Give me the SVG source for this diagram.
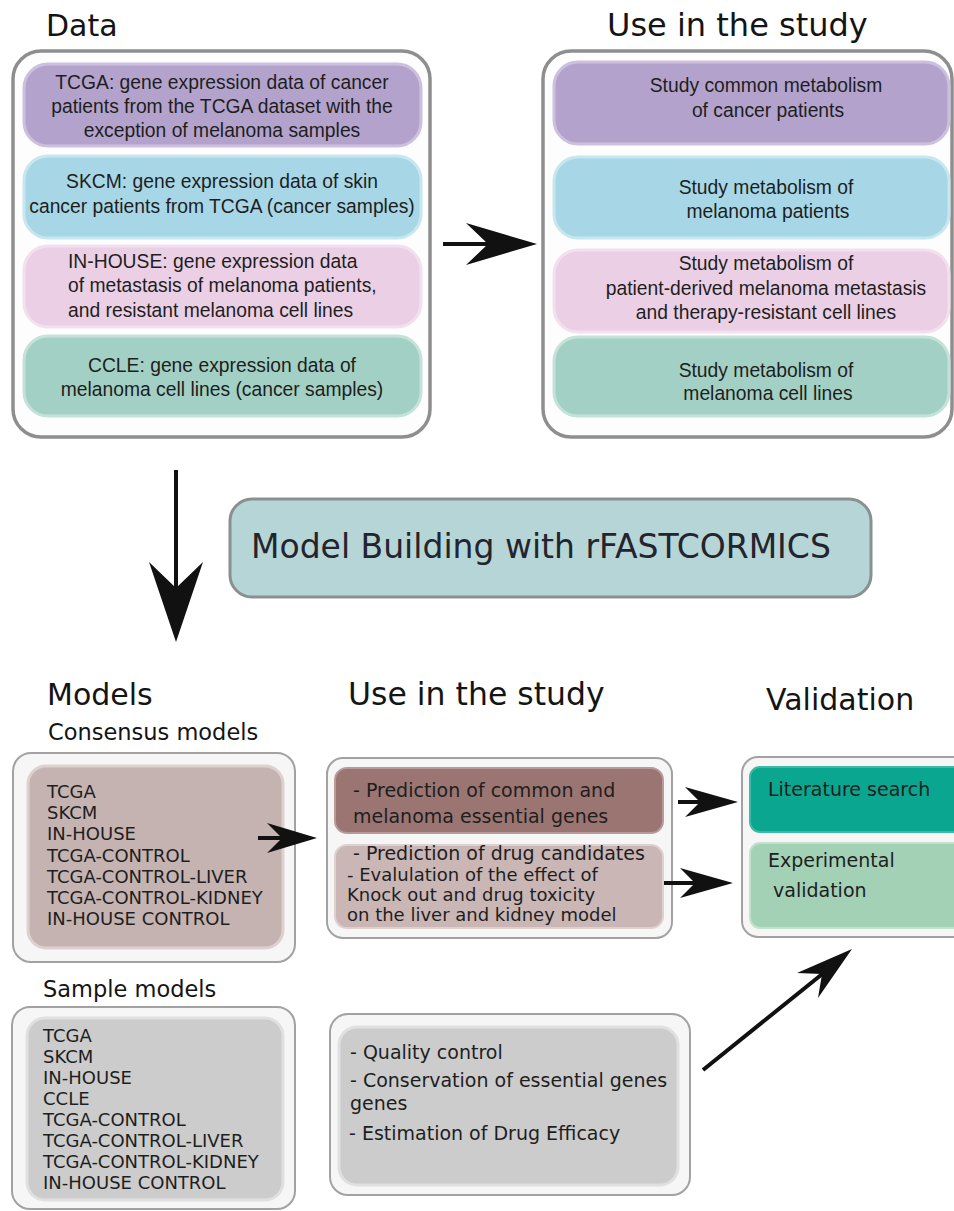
<svg xmlns="http://www.w3.org/2000/svg" width="954" height="1211" viewBox="0 0 954 1211">
<style>
.title{font-family:"DejaVu Sans",Verdana,sans-serif;font-size:30px;fill:#141414}
.sub{font-family:"DejaVu Sans",Verdana,sans-serif;font-size:22.5px;fill:#141414}
.ar{font-family:"Liberation Sans",Arial,sans-serif;font-size:19.3px;fill:#1e1e1e}
.dv{font-family:"DejaVu Sans",Verdana,sans-serif;font-size:19px;fill:#1e1e1e}
.dvs{font-family:"DejaVu Sans",Verdana,sans-serif;font-size:18px;fill:#1e1e1e}
.lst{font-family:"DejaVu Sans",Verdana,sans-serif;font-size:18px;fill:#1e1e1e}
.outerT{fill:#fdfdfd;stroke:#8e8e8e;stroke-width:3.5}
.outerB{fill:#f6f6f6;stroke:#a2a2a2;stroke-width:2}
.purple{fill:#b3a3cc;stroke:#cdc0df;stroke-width:3}
.blue{fill:#a7d7e6;stroke:#c6e6f0;stroke-width:3}
.pink{fill:#ebd0e5;stroke:#f3e0ee;stroke-width:3}
.green{fill:#a3d0c4;stroke:#c4e2da;stroke-width:3}
.shaft{stroke:#111;stroke-width:4;fill:none}
.head{fill:#111;stroke:none}
</style>

<!-- Titles -->
<text class="title" x="46" y="36">Data</text>
<text class="title" x="607" y="36" style="font-size:32px">Use in the study</text>
<text class="title" x="47" y="705">Models</text>
<text class="title" x="348" y="705" style="font-size:31.5px">Use in the study</text>
<text class="title" x="766" y="710">Validation</text>
<text class="sub" x="48" y="740">Consensus models</text>
<text class="sub" x="43" y="997">Sample models</text>

<!-- Data box -->
<g id="data">
<rect class="outerT" x="13" y="51" width="417" height="386" rx="28"/>
<g id="data-tcga">
<rect class="purple" x="24" y="64" width="397" height="82" rx="24"/>
<text class="ar" text-anchor="middle"><tspan x="222" y="89">TCGA: gene expression data of cancer</tspan><tspan x="222" y="113">patients from the TCGA dataset with the</tspan><tspan x="222" y="137">exception of melanoma samples</tspan></text>
</g>
<g id="data-skcm">
<rect class="blue" x="24" y="156" width="397" height="82" rx="24"/>
<text class="ar" text-anchor="middle"><tspan x="222" y="188">SKCM: gene expression data of skin</tspan><tspan x="222" y="213">cancer patients from TCGA (cancer samples)</tspan></text>
</g>
<g id="data-inhouse">
<rect class="pink" x="24" y="246" width="397" height="81" rx="24"/>
<text class="ar"><tspan x="68" y="268">IN-HOUSE: gene expression data</tspan><tspan x="68" y="292">of metastasis of melanoma patients,</tspan><tspan x="68" y="317">and resistant melanoma cell lines</tspan></text>
</g>
<g id="data-ccle">
<rect class="green" x="24" y="336" width="397" height="80" rx="24"/>
<text class="ar" text-anchor="middle"><tspan x="222" y="372">CCLE: gene expression data of</tspan><tspan x="222" y="396">melanoma cell lines (cancer samples)</tspan></text>
</g>
</g>

<!-- Use in the study (top) -->
<g id="use-top">
<rect class="outerT" x="543" y="51" width="409" height="386" rx="28"/>
<g id="use-common">
<rect class="purple" x="554" y="62" width="395" height="82" rx="24"/>
<text class="ar" text-anchor="middle"><tspan x="766" y="92">Study common metabolism</tspan><tspan x="768" y="117">of cancer patients</tspan></text>
</g>
<g id="use-melanoma">
<rect class="blue" x="554" y="157" width="395" height="81" rx="24"/>
<text class="ar" text-anchor="middle"><tspan x="766" y="194">Study metabolism of</tspan><tspan x="768" y="218">melanoma patients</tspan></text>
</g>
<g id="use-metastasis">
<rect class="pink" x="554" y="250" width="395" height="82" rx="24"/>
<text class="ar" text-anchor="middle"><tspan x="766" y="270">Study metabolism of</tspan><tspan x="766" y="295">patient-derived melanoma metastasis</tspan><tspan x="766" y="319">and therapy-resistant cell lines</tspan></text>
</g>
<g id="use-celllines">
<rect class="green" x="554" y="337" width="395" height="79" rx="24"/>
<text class="ar" text-anchor="middle"><tspan x="766" y="377">Study metabolism of</tspan><tspan x="768" y="400">melanoma cell lines</tspan></text>
</g>
</g>

<!-- Model building -->
<g id="model-building">
<rect x="230" y="499" width="641" height="98" rx="22" fill="#b6d5d6" stroke="#8a9090" stroke-width="3"/>
<text x="251" y="558" style="font-family:'DejaVu Sans',Verdana,sans-serif;font-size:33px;fill:#24242e">Model Building with rFASTCORMICS</text>
</g>

<!-- Consensus models -->
<g id="consensus">
<rect class="outerB" x="13" y="753" width="282" height="209" rx="18"/>
<rect x="28" y="766" width="255" height="182" rx="18" fill="#c5b3b2" stroke="#ddd1d0" stroke-width="3"/>
<text class="lst"><tspan x="47" y="798">TCGA</tspan><tspan x="47" y="819.2">SKCM</tspan><tspan x="47" y="840.4">IN-HOUSE</tspan><tspan x="47" y="861.6">TCGA-CONTROL</tspan><tspan x="47" y="882.8">TCGA-CONTROL-LIVER</tspan><tspan x="47" y="904">TCGA-CONTROL-KIDNEY</tspan><tspan x="47" y="925.2">IN-HOUSE CONTROL</tspan></text>
</g>

<!-- Sample models -->
<g id="sample">
<rect class="outerB" x="12" y="1007" width="283" height="202" rx="18"/>
<rect x="27" y="1018" width="256" height="182" rx="18" fill="#cccccc" stroke="#e0e0e0" stroke-width="3"/>
<text class="lst"><tspan x="43" y="1042">TCGA</tspan><tspan x="43" y="1063">SKCM</tspan><tspan x="43" y="1084">IN-HOUSE</tspan><tspan x="43" y="1105">CCLE</tspan><tspan x="43" y="1126">TCGA-CONTROL</tspan><tspan x="43" y="1147">TCGA-CONTROL-LIVER</tspan><tspan x="43" y="1168">TCGA-CONTROL-KIDNEY</tspan><tspan x="43" y="1189">IN-HOUSE CONTROL</tspan></text>
</g>

<!-- Use in the study (bottom) -->
<g id="use-bottom">
<rect class="outerB" x="327" y="758" width="345" height="180" rx="16"/>
<g id="use-essential">
<rect x="335" y="768" width="328" height="65" rx="12" fill="#9b7572" stroke="#b89b99" stroke-width="2"/>
<text class="dv"><tspan x="353" y="797">- Prediction of common and</tspan><tspan x="353" y="823">melanoma essential genes</tspan></text>
</g>
<g id="use-drugs">
<rect x="335" y="845" width="328" height="83" rx="12" fill="#c9b6b5" stroke="#ddd0cf" stroke-width="2"/>
<text class="dvs"><tspan x="353" y="860" style="font-size:19px">- Prediction of drug candidates</tspan><tspan x="347" y="881">- Evalulation of the effect of</tspan><tspan x="347" y="901">Knock out and drug toxicity</tspan><tspan x="347" y="921">on the liver and kidney model</tspan></text>
</g>
</g>

<!-- Quality control -->
<g id="quality">
<rect class="outerB" x="330" y="1014" width="360" height="181" rx="18"/>
<rect x="339" y="1027" width="339" height="158" rx="18" fill="#cccccc" stroke="#e0e0e0" stroke-width="3"/>
<text class="dv"><tspan x="350" y="1059">- Quality control</tspan><tspan x="350" y="1087">- Conservation of essential genes</tspan><tspan x="350" y="1110">genes</tspan><tspan x="349" y="1140">- Estimation of Drug Efficacy</tspan></text>
</g>

<!-- Validation -->
<g id="validation">
<rect class="outerB" x="742" y="757" width="230" height="180" rx="16"/>
<g id="val-literature">
<rect x="750" y="767" width="220" height="65" rx="10" fill="#0aa68f" stroke="#3dbaa6" stroke-width="2"/>
<text class="dv" x="768" y="796">Literature search</text>
</g>
<g id="val-experimental">
<rect x="750" y="843" width="220" height="85" rx="10" fill="#a3d1b6" stroke="#c2e2cf" stroke-width="2"/>
<text class="dv"><tspan x="768" y="867">Experimental</tspan><tspan x="773" y="897">validation</tspan></text>
</g>
</g>

<!-- Connectors -->
<g id="connectors">
<line class="shaft" x1="443" y1="244" x2="492" y2="244"/>
<polygon class="head" points="537,244 466,223 488,244 466,265"/>
<line class="shaft" x1="176" y1="470" x2="176" y2="595"/>
<polygon class="head" points="176,642 149,562 176,588 203,562"/>
<line class="shaft" x1="258" y1="838" x2="285" y2="838"/>
<polygon class="head" points="317,838 267,823 282,838 267,853"/>
<line class="shaft" x1="678" y1="802" x2="702" y2="802"/>
<polygon class="head" points="738,802 685,787 700,802 685,817"/>
<line class="shaft" x1="664" y1="883" x2="697" y2="883"/>
<polygon class="head" points="733,883 680,868 695,883 680,898"/>
<line class="shaft" x1="703" y1="1070" x2="826" y2="971"/>
<polygon class="head" points="852,949 797,973 822,974 818,998"/>
</g>
</svg>
